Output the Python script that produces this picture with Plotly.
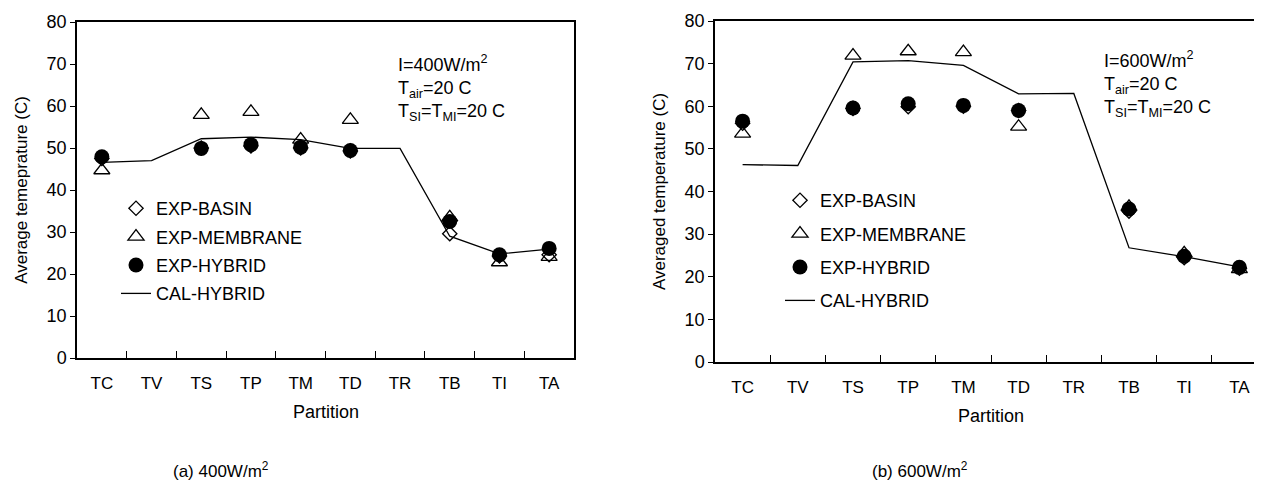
import plotly.graph_objects as go

categories = ["TC", "TV", "TS", "TP", "TM", "TD", "TR", "TB", "TI", "TA"]

# (a) I = 400 W/m2
basin_400 = [47.5, None, 50.0, 50.5, 50.0, 49.3, None, 29.6, 24.3, 24.6]
membrane_400 = [44.7, None, 57.9, 58.6, 52.0, 56.7, None, 33.5, 22.8, 24.1]
hybrid_400 = [47.9, None, 49.9, 50.8, 50.2, 49.4, None, 32.5, 24.6, 26.1]
cal_400 = [46.6, 47.0, 52.2, 52.6, 52.0, 49.9, 49.9, 29.0, 24.8, 25.9]

# (b) I = 600 W/m2
basin_600 = [56.0, None, 59.5, 59.9, 60.0, 59.0, None, 35.4, 24.5, 22.0]
membrane_600 = [53.6, None, 71.9, 72.9, 72.7, 55.2, None, 36.4, 25.5, 21.8]
hybrid_600 = [56.5, None, 59.6, 60.6, 60.2, 59.0, None, 35.9, 24.8, 22.2]
cal_600 = [46.3, 46.1, 70.4, 70.7, 69.6, 62.9, 63.0, 26.8, 24.7, 22.3]

FONT = "Liberation Sans, Arial, sans-serif"
FS = 18


def f(size=FS):
    return dict(family=FONT, size=size, color="black")


fig = go.Figure()


def add_panel(xa, ya, leg, tag, basin, membrane, hybrid, cal):
    fig.add_trace(go.Scatter(
        x=categories, y=basin, mode="markers", name="EXP-BASIN",
        xaxis=xa, yaxis=ya, legend=leg, legendgroup=tag + "1",
        marker=dict(symbol="diamond-open", size=11, color="black",
                    line=dict(width=1.3, color="black"))))
    fig.add_trace(go.Scatter(
        x=categories, y=membrane, mode="markers", name="EXP-MEMBRANE",
        xaxis=xa, yaxis=ya, legend=leg, legendgroup=tag + "2",
        marker=dict(symbol="triangle-up-open", size=14, color="black",
                    line=dict(width=1.3, color="black"))))
    fig.add_trace(go.Scatter(
        x=categories, y=hybrid, mode="markers", name="EXP-HYBRID",
        xaxis=xa, yaxis=ya, legend=leg, legendgroup=tag + "3",
        marker=dict(symbol="circle", size=15, color="black")))
    fig.add_trace(go.Scatter(
        x=categories, y=cal, mode="lines", name="CAL-HYBRID",
        xaxis=xa, yaxis=ya, legend=leg, legendgroup=tag + "4",
        line=dict(color="black", width=1.3)))


add_panel("x", "y", "legend", "a", basin_400, membrane_400, hybrid_400, cal_400)
add_panel("x2", "y2", "legend2", "b", basin_600, membrane_600, hybrid_600, cal_600)

xcommon = dict(type="category", categoryorder="array", categoryarray=categories,
               range=[-0.5, 9.5], tickson="boundaries", ticks="inside", ticklen=7,
               tickwidth=1, tickcolor="black", showline=True, linecolor="black",
               linewidth=1.5, mirror=True, showgrid=False, zeroline=False,
               ticklabelstandoff=9, tickfont=f(17), automargin=False)
ycommon = dict(range=[0, 80], dtick=10, ticks="outside", ticklen=5, tickwidth=1,
               tickcolor="black", showline=True, linecolor="black", linewidth=1.5,
               mirror=True, showgrid=False, zeroline=False, tickfont=f(18),
               automargin=False)

W, H = 1262, 488
fig.update_layout(
    width=W, height=H,
    margin=dict(l=0, r=0, t=0, b=0),
    paper_bgcolor="white", plot_bgcolor="white",
    font=f(),
    xaxis=dict(xcommon, domain=[69 / W, 566 / W], anchor="y"),
    yaxis=dict(ycommon, domain=[1 - 350 / H, 1 - 14 / H], anchor="x",
               title=dict(text="Average temeprature (C)", font=f(17))),
    xaxis2=dict(xcommon, domain=[707 / W, 1259 / W], anchor="y2"),
    yaxis2=dict(ycommon, domain=[1 - 354 / H, 1 - 13 / H], anchor="x2",
                title=dict(text="Averaged temperature (C)", font=f(17))),
    legend=dict(x=108 / W, y=1 - 182 / H, xanchor="left", yanchor="top",
                tracegroupgap=2, traceorder="grouped",
                bgcolor="rgba(0,0,0,0)", font=f(18)),
    legend2=dict(x=772 / W, y=1 - 174 / H, xanchor="left", yanchor="top",
                 tracegroupgap=7, traceorder="grouped",
                 bgcolor="rgba(0,0,0,0)", font=f(18)),
    showlegend=True,
)

fig.add_annotation(xref="x domain", yref="y domain", x=0.642, y=0.918,
                   xanchor="left", yanchor="top", align="left", showarrow=False,
                   text="I=400W/m<sup>2</sup><br>T<sub>air</sub>=20 C<br>T<sub>SI</sub>=T<sub>MI</sub>=20 C",
                   font=f(18))
fig.add_annotation(xref="x2 domain", yref="y2 domain", x=0.701, y=0.928,
                   xanchor="left", yanchor="top", align="left", showarrow=False,
                   text="I=600W/m<sup>2</sup><br>T<sub>air</sub>=20 C<br>T<sub>SI</sub>=T<sub>MI</sub>=20 C",
                   font=f(18))

# x-axis titles
fig.add_annotation(xref="x domain", yref="paper", x=0.5, y=1 - 404 / H,
                   xanchor="center", yanchor="middle", showarrow=False,
                   text="Partition", font=f(18))
fig.add_annotation(xref="x2 domain", yref="paper", x=0.5, y=1 - 408 / H,
                   xanchor="center", yanchor="middle", showarrow=False,
                   text="Partition", font=f(18))

# panel captions
fig.add_annotation(xref="paper", yref="paper", x=213 / W, y=1 - 462 / H,
                   xanchor="center", yanchor="middle", showarrow=False,
                   text="(a) 400W/m<sup>2</sup>", font=f(17))
fig.add_annotation(xref="paper", yref="paper", x=912 / W, y=1 - 462 / H,
                   xanchor="center", yanchor="middle", showarrow=False,
                   text="(b) 600W/m<sup>2</sup>", font=f(17))

fig.write_html("out.html")
